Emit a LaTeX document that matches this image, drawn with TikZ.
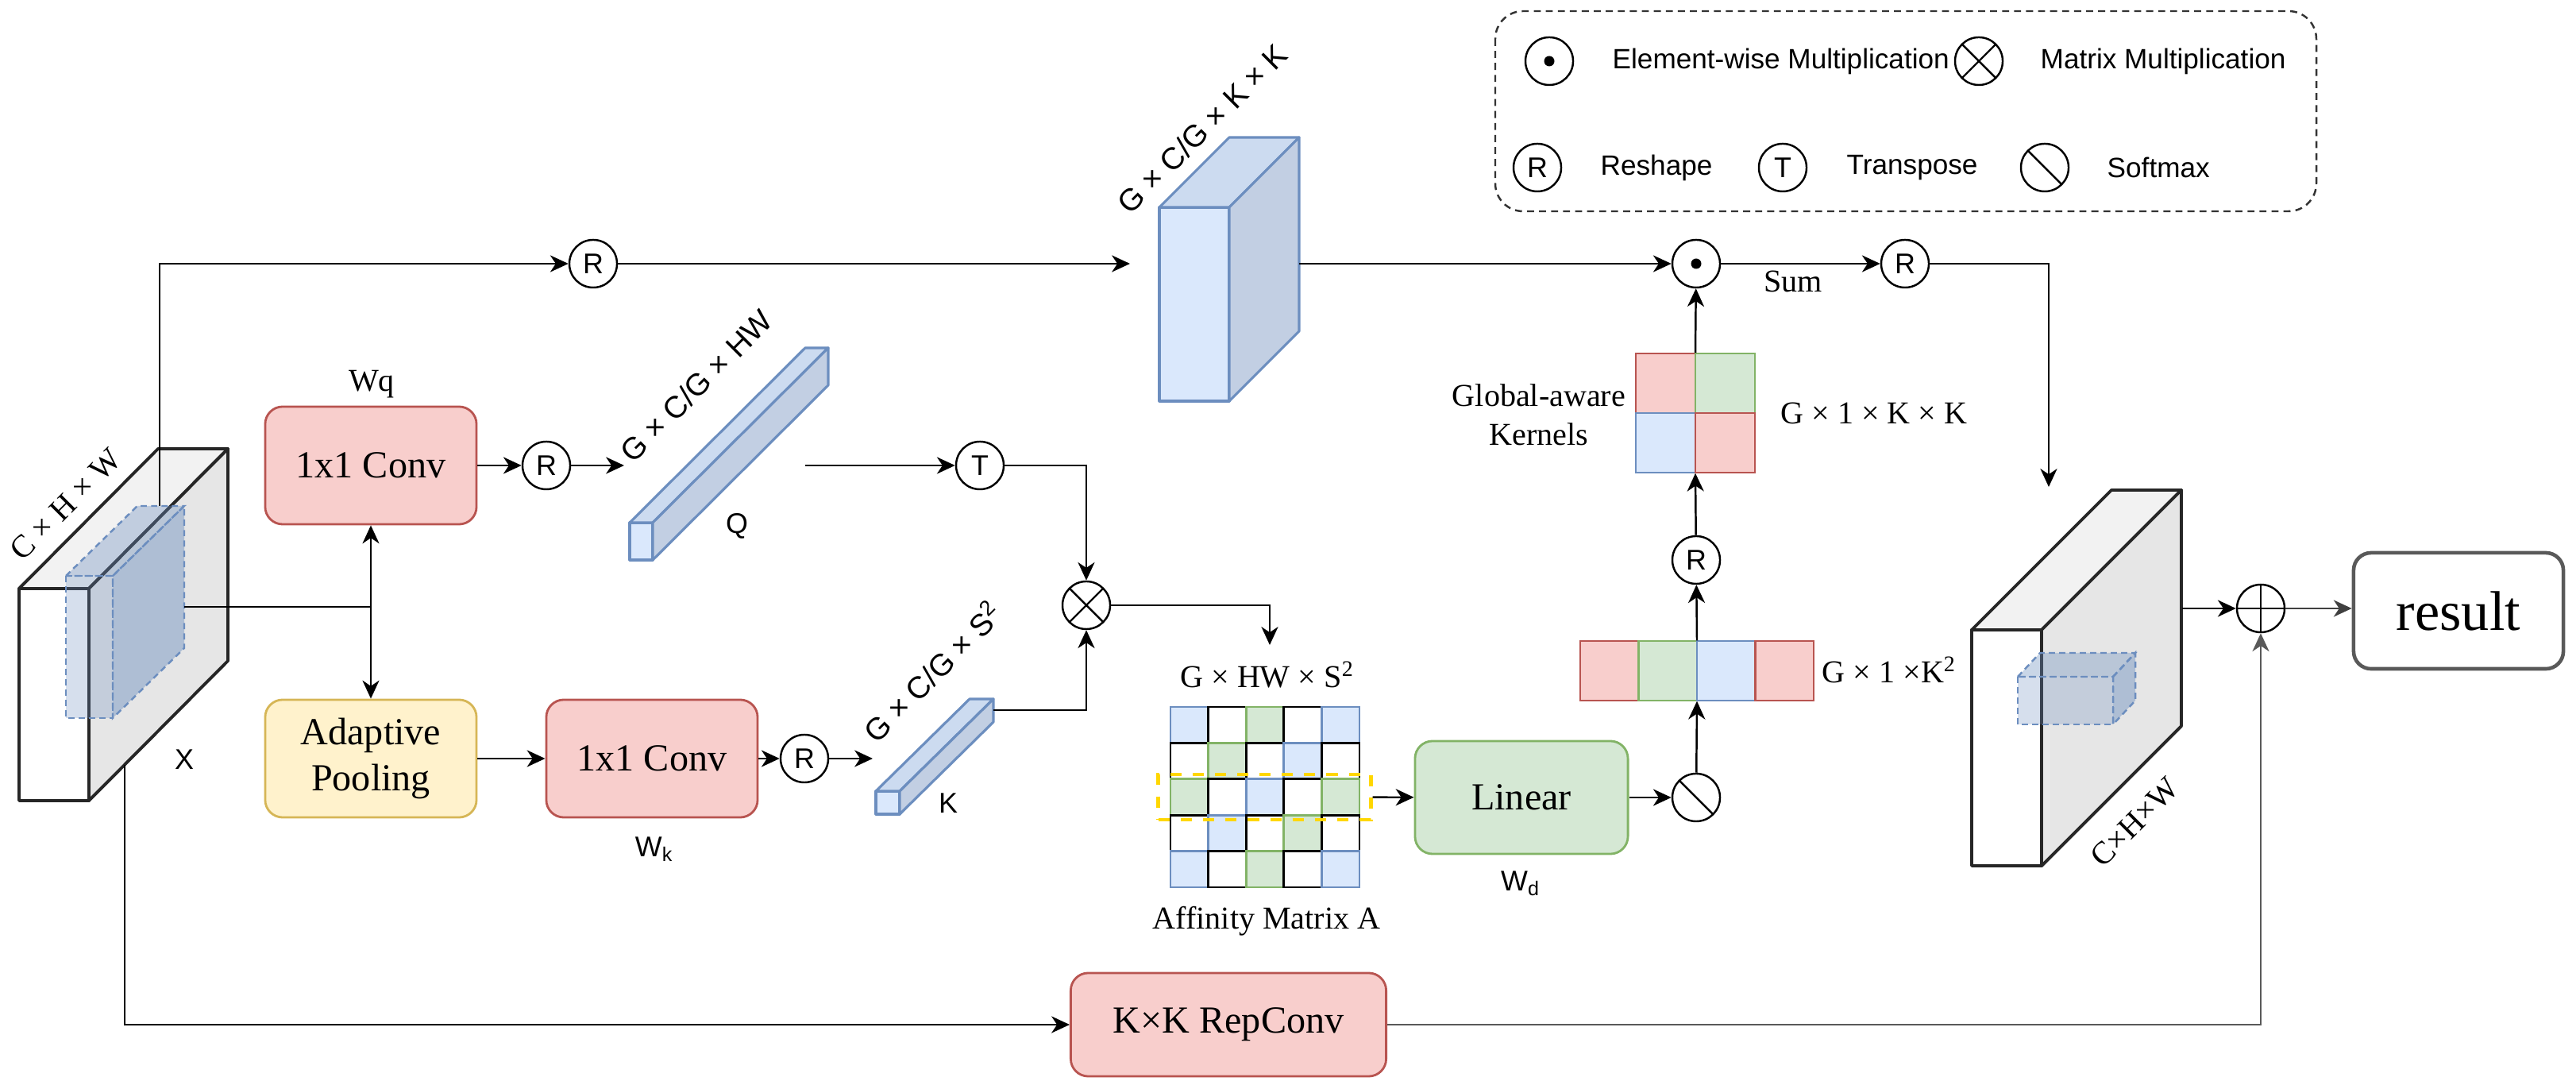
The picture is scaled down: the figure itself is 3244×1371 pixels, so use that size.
\documentclass[tikz,border=0pt]{standalone}
\usepackage{fontspec}
\setmainfont{Liberation Serif}
\setsansfont{Liberation Sans}
\usetikzlibrary{arrows.meta,positioning,calc}

\definecolor{redF}{HTML}{F8CECC}\definecolor{redD}{HTML}{B85450}
\definecolor{grnF}{HTML}{D5E8D4}\definecolor{grnD}{HTML}{82B366}
\definecolor{bluF}{HTML}{DAE8FC}\definecolor{bluD}{HTML}{6C8EBF}
\definecolor{yelF}{HTML}{FFF2CC}\definecolor{yelD}{HTML}{D6B656}
\definecolor{bluT}{HTML}{CCDBF0}\definecolor{bluS}{HTML}{C2CFE3}
\definecolor{gryT}{HTML}{F2F2F2}\definecolor{gryS}{HTML}{E6E6E6}
\definecolor{selY}{HTML}{FFD700}
\colorlet{fillr}{redF}\colorlet{liner}{redD}
\colorlet{fillg}{grnF}\colorlet{lineg}{grnD}
\colorlet{fillb}{bluF}\colorlet{lineb}{bluD}
\colorlet{fillw}{white}\colorlet{linew}{black}

\newcommand{\drawcuboid}[7]{%
  \draw[#7F] (#1,#2) rectangle ++(#3,#4);
  \draw[#7T] (#1,#2) -- ++(#5,-#6) -- ++(#3,0) -- ++(-#5,#6) -- cycle;
  \draw[#7S] (#1+#3,#2) -- ++(#5,-#6) -- ++(0,#4) -- ++(-#5,#6) -- cycle;
}

\tikzset{
  lw/.style={line width=0.7pt},
  arr/.style={lw, -{Stealth[length=6.5pt,width=6pt,inset=2pt]}},
  op/.style={circle, draw, lw, fill=white, minimum size=0.6cm, inner sep=0pt,
    font=\sffamily\fontsize{10.2}{12}\selectfont},
  otimes/.style={op, path picture={\draw[lw] (path picture bounding box.north west) -- (path picture bounding box.south east)
    (path picture bounding box.north east) -- (path picture bounding box.south west);}},
  oplus/.style={op, path picture={\draw[lw] (path picture bounding box.north) -- (path picture bounding box.south)
    (path picture bounding box.east) -- (path picture bounding box.west);}},
  osoft/.style={op, path picture={\draw[lw] (path picture bounding box.north west) -- (path picture bounding box.south east);}},
  odot/.style={op, path picture={\fill[black] (path picture bounding box.center) circle (0.065cm);}},
  blk/.style={draw, line width=0.8pt, rounded corners=0.22cm, minimum width=2.66cm, minimum height=1.48cm,
    align=center, font=\fontsize{13.7}{16.5}\selectfont},
  convbox/.style={blk, draw=redD, fill=redF},
  poolbox/.style={blk, draw=yelD, fill=yelF},
  linbox/.style={blk, draw=grnD, fill=grnF, minimum width=2.68cm, minimum height=1.42cm},
  repbox/.style={blk, draw=redD, fill=redF, minimum width=3.97cm, minimum height=1.3cm},
  resbox/.style={blk, draw=black!65, line width=1.3pt, minimum width=2.64cm, minimum height=1.46cm,
    font=\fontsize{20}{24}\selectfont},
  selbox/.style={draw=selY, line width=1.4pt, dash pattern=on 4pt off 4pt, minimum width=2.67cm,
    minimum height=0.57cm, inner sep=0pt},
  cell/.style={line width=0.8pt},
  cubeF/.style={draw=black!85, line width=1.1pt, fill=white, line join=round},
  cubeT/.style={cubeF, fill=gryT},
  cubeS/.style={cubeF, fill=gryS},
  innerF/.style={draw=bluD, lw, dash pattern=on 2.2pt off 1.5pt, fill=bluD, fill opacity=0.28},
  innerT/.style={innerF, fill opacity=0.36},
  innerS/.style={innerF, fill opacity=0.45},
  featF/.style={draw=bluD, line width=0.9pt, fill=bluF, line join=round},
  featT/.style={featF, fill=bluT},
  featS/.style={featF, fill=bluS},
  lab/.style={inner sep=0pt, align=center, font=\fontsize{11.4}{14}\selectfont},
  slabel/.style={inner sep=0pt, font=\sffamily\fontsize{10.2}{12}\selectfont},
  dimlab/.style={inner sep=0pt, rotate=45, font=\sffamily\fontsize{11}{13}\selectfont},
  leg/.style={inner sep=0pt, anchor=west, font=\sffamily\fontsize{10}{12}\selectfont}
}

\begin{document}
\begin{tikzpicture}[x=0.01cm, y=-0.01cm]
\useasboundingbox (0,0) rectangle (3244,1371);

\drawcuboid{24}{741}{88}{267}{175}{176}{cube}
\drawcuboid{83}{725}{59}{179}{90}{88}{inner}
\drawcuboid{793}{658}{29}{47}{221}{220}{feat}
\drawcuboid{1103}{996}{30}{29}{118}{116}{feat}
\drawcuboid{1460}{261}{88}{244}{88}{88}{feat}
\drawcuboid{2483}{793}{88}{297}{176}{176}{cube}
\drawcuboid{2541}{852}{120}{60}{28}{30}{inner}

\foreach \row [count=\r from 0] in {{b,w,g,w,b},{w,g,w,b,w},{g,w,b,w,g},{w,b,w,g,w},{b,w,g,w,b}} {
  \foreach \c [count=\k from 0] in \row {
    \draw[cell, fill=fill\c, draw=line\c] ({1474+47.6*\k},{890+45.4*\r}) rectangle ++(47.6,45.4);
  }
}
\foreach \c/\i/\j in {r/0/0,g/1/0,b/0/1,r/1/1}
  \draw[cell, fill=fill\c, draw=line\c] ({2060+75*\i},{445+75*\j}) rectangle ++(75,75);
\foreach \c [count=\i from 0] in {r,g,b,r}
  \draw[cell, fill=fill\c, draw=line\c] ({1990+73.5*\i},807) rectangle ++(73.5,75);

\node[selbox] (sel) at (1592.5,1003.5) {};
\node[inner sep=0pt, minimum size=1.5cm] (kern) at (2135,520) {};
\node[inner sep=0pt, minimum width=2.94cm, minimum height=0.75cm] (strip) at (2137,844.5) {};

\coordinate (xtop) at (201,637);
\coordinate (xmid) at (232,764);
\coordinate (xbot) at (157,963);
\coordinate (split) at (467,764);
\coordinate (qin) at (786,586);
\coordinate (qout) at (1014,586);
\coordinate (kin) at (1099,955);
\coordinate (kout) at (1251,894);
\coordinate (vin) at (1423,332);
\coordinate (vout) at (1636,332);
\coordinate (amatin) at (1599,812);
\coordinate (yin) at (2580,613);
\coordinate (yout) at (2748,766);

\node[convbox] (convq) at (467,586) {1x1 Conv};
\node[poolbox] (pool) at (467,955) {Adaptive\\Pooling};
\node[convbox] (convk) at (821,955) {1x1 Conv};
\node[linbox] (linear) at (1916,1004) {Linear};
\node[repbox] (rep) at (1547,1290) {K×K RepConv};
\node[resbox] (result) at (3096,769) {result};

\node[op] (rv) at (747,332) {R};
\node[op] (rq) at (688,586) {R};
\node[op] (rk) at (1013,955) {R};
\node[op] (tq) at (1234,586) {T};
\node[otimes] (mmul) at (1368,762) {};
\node[osoft] (soft) at (2136,1004) {};
\node[op] (rker) at (2136,705) {R};
\node[odot] (emul) at (2136,332) {};
\node[op] (rsum) at (2399,332) {R};
\node[oplus] (plus) at (2847,766) {};

\node[lab] (wq) at (468,484) {Wq};
\node[slabel] (xname) at (232,956) {X};
\node[slabel] (qname) at (928,662) {Q};
\node[slabel] (kname) at (1194,1011) {K};
\node[slabel] (wk) at (824,1069) {W\textsubscript{k}};
\node[slabel] (wd) at (1915,1112) {W\textsubscript{d}};
\node[lab] (amatname) at (1595,1160) {Affinity Matrix A};
\node[lab] (amatdim) at (1596,850) {G × HW × S\textsuperscript{2}};
\node[lab] (kerdim) at (2360,520) {G × 1 × K × K};
\node[lab, anchor=west] (stripdim) at (2294,843) {G × 1 ×K\textsuperscript{2}};
\node[lab] (kername) at (1938,522) {Global-aware\\Kernels};
\node[lab] (sumname) at (2258,354) {Sum};
\node[lab, rotate=45] (xdim) at (83,635) {C × H × W};
\node[dimlab] (qdim) at (877,486) {G × C/G × HW};
\node[dimlab] (kdim) at (1174,845) {G × C/G × S\textsuperscript{2}};
\node[dimlab] (vdim) at (1514,162) {G × C/G × K × K};
\node[lab, rotate=45] (ydim) at (2688,1035) {C×H×W};

\draw[black!80, lw, dash pattern=on 2.5pt off 1.8pt, rounded corners=0.35cm] (1883,14) rectangle (2917,266);
\node[odot] (lgdot) at (1951,77) {};
\node[leg] (lgdott) at (2030,77) {Element-wise Multiplication};
\node[otimes] (lgmul) at (2492,77) {};
\node[leg] (lgmult) at (2569,77) {Matrix Multiplication};
\node[op] (lgr) at (1936,211) {R};
\node[leg] (lgrt) at (2015,211) {Reshape};
\node[op] (lgt) at (2245,211) {T};
\node[leg] (lgtt) at (2325,211) {Transpose};
\node[osoft] (lgsoft) at (2575,211) {};
\node[leg] (lgsoftt) at (2653,211) {Softmax};

\draw[arr] (xtop) |- (rv);
\draw[arr] (rv) -- (vin);
\draw[arr] (vout) -- (emul);
\draw[arr] (emul) -- (rsum);
\draw[arr] (rsum) -| (yin);
\draw[lw] (xmid) -- (split);
\draw[arr] (split) -- (convq);
\draw[arr] (split) -- (pool);
\draw[arr] (convq) -- (rq);
\draw[arr] (rq) -- (qin);
\draw[arr] (qout) -- (tq);
\draw[arr] (tq) -| (mmul);
\draw[arr] (pool) -- (convk);
\draw[arr] (convk) -- (rk);
\draw[arr] (rk) -- (kin);
\draw[arr] (kout) -| (mmul);
\draw[arr] (mmul) -| (amatin);
\draw[arr] (sel) -- (linear);
\draw[arr] (linear) -- (soft);
\draw[arr] (soft) -- (strip.south);
\draw[arr] (strip.north) -- (rker);
\draw[arr] (rker) -- (kern.south);
\draw[arr] (kern.north) -- (emul);
\draw[arr] (xbot) |- (rep);
\draw[arr, black!65] (rep) -| (plus);
\draw[arr] (yout) -- (plus);
\draw[arr, black!75] (plus) -- (plus -| result.west);
\end{tikzpicture}
\end{document}
